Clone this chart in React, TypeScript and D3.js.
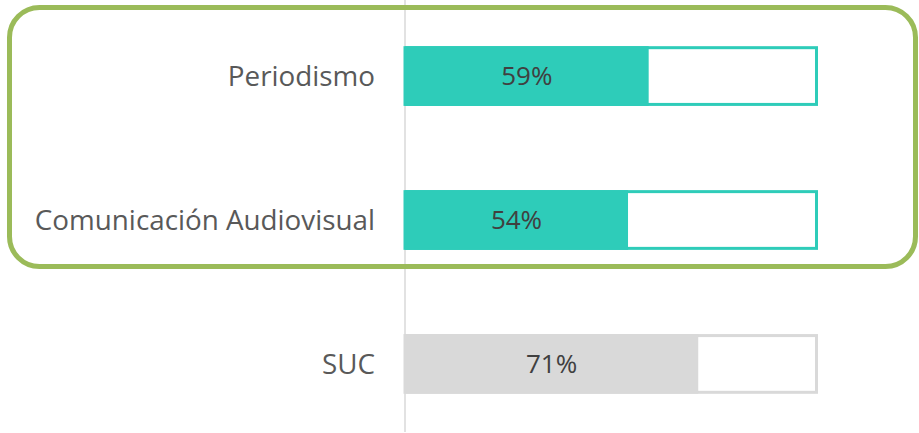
import React, { useRef, useEffect } from "react";
import * as d3 from "d3";

const width = 919;
const height = 433;

const categories = ["Periodismo", "Comunicación Audiovisual", "SUC"];
const values = [59, 54, 71];
const highlight = [true, true, false];

const teal = "#2ECCB9";
const grey = "#D9D9D9";

const App = () => {
  const ref = useRef<SVGSVGElement>(null);

  useEffect(() => {
    if (!ref.current) return;
    const svg = d3.select(ref.current);
    svg.selectAll("*").remove();

    const x = d3.scaleLinear().domain([0, 100]).range([405, 818]);
    const y = d3
      .scaleBand()
      .domain(categories)
      .range([3, 437])
      .paddingInner(0.585)
      .paddingOuter(0.3);

    const rows = categories.map((c, i) => ({ c, v: values[i], hl: highlight[i] }));

    // axis line
    svg
      .append("line")
      .attr("x1", x(0))
      .attr("x2", x(0))
      .attr("y1", 0)
      .attr("y2", 432)
      .attr("stroke", grey)
      .attr("stroke-width", 1.5);

    const g = svg.append("g").selectAll("g").data(rows).join("g");

    // 100% frame
    g.append("rect")
      .attr("x", x(0))
      .attr("y", (d) => y(d.c)! + 1.5)
      .attr("width", x(100) - x(0) - 1.5)
      .attr("height", y.bandwidth() - 3)
      .attr("fill", "white")
      .attr("stroke", (d) => (d.hl ? teal : grey))
      .attr("stroke-width", 3);

    // value bar
    g.append("rect")
      .attr("x", x(0))
      .attr("y", (d) => y(d.c)!)
      .attr("width", (d) => x(d.v) - x(0))
      .attr("height", y.bandwidth())
      .attr("fill", (d) => (d.hl ? teal : grey));

    g.append("text")
      .attr("x", (d) => (x(0) + x(d.v)) / 2)
      .attr("y", (d) => y(d.c)! + y.bandwidth() / 2)
      .attr("dy", "0.36em")
      .attr("text-anchor", "middle")
      .style("font", "26px 'Open Sans'")
      .attr("fill", "#404040")
      .text((d) => `${d.v}%`);

    g.append("text")
      .attr("x", 375)
      .attr("y", (d) => y(d.c)! + y.bandwidth() / 2)
      .attr("dy", "0.36em")
      .attr("text-anchor", "end")
      .style("font", "27.8px 'Open Sans'")
      .attr("fill", "#595959")
      .text((d) => d.c);

    // highlight box
    svg
      .append("rect")
      .attr("x", 9.5)
      .attr("y", 7.5)
      .attr("width", 906)
      .attr("height", 259)
      .attr("rx", 30)
      .attr("fill", "none")
      .attr("stroke", "#9BBB59")
      .attr("stroke-width", 5);
  }, []);

  return (
    <svg
      ref={ref}
      width={width}
      height={height}
      style={{ position: "absolute", left: 0, top: 0, display: "block" }}
    />
  );
};

export default App;
